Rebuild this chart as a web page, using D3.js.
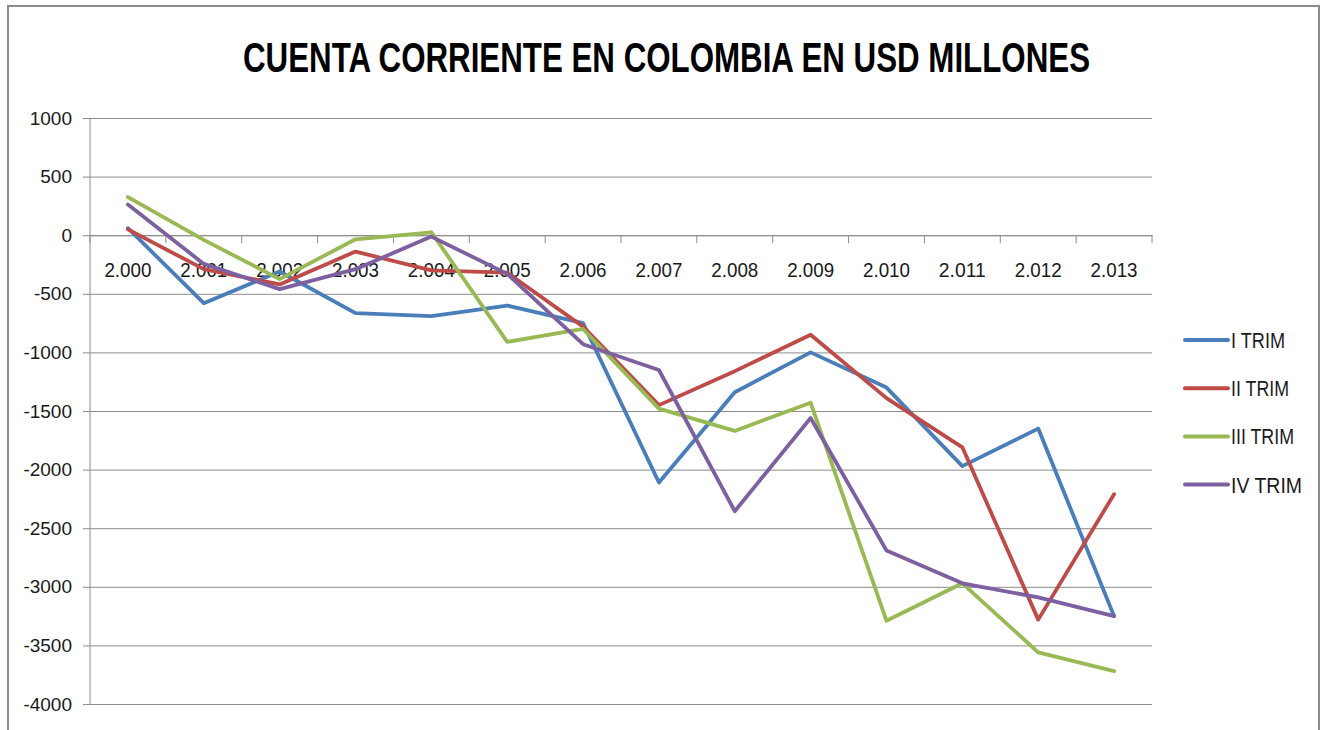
<!DOCTYPE html>
<meta charset="utf-8">
<head>
<script src="https://d3js.org/d3.v7.min.js"></script>
<style>
  body { margin: 0; background: #fff; }
  text { font-family: "Liberation Sans", Arial, sans-serif; fill: #1a1a1a; }
</style>
</head>
<body>
<svg id="chart" width="1327" height="730"></svg>
<script>

// data
const years = ["2.000","2.001","2.002","2.003","2.004","2.005","2.006","2.007","2.008","2.009","2.010","2.011","2.012","2.013"];
const trim1 = [60, -580, -310, -665, -690, -600, -750, -2110, -1340, -1000, -1300, -1970, -1650, -3250];
const trim2 = [50, -290, -420, -140, -300, -320, -780, -1450, -1160, -850, -1390, -1810, -3280, -2210];
const trim3 = [325, -40, -375, -35, 25, -910, -800, -1480, -1670, -1430, -3290, -2970, -3560, -3720];
const trim4 = [262, -245, -460, -290, -12, -330, -930, -1150, -2355, -1560, -2690, -2970, -3090, -3250];
const seriesNames = ["I TRIM", "II TRIM", "III TRIM", "IV  TRIM"];
const seriesColors = ["#4A7EBB", "#BE4B48", "#98B954", "#7D60A0"];
const yTicks = [1000, 500, 0, -500, -1000, -1500, -2000, -2500, -3000, -3500, -4000];

const allSeries = [trim1, trim2, trim3, trim4];

var svg = d3.select("#chart");

// outer chart border
svg.append("rect")
    .attr("x", 8).attr("y", 6)
    .attr("width", 1311).attr("height", 740)
    .attr("fill", "none")
    .attr("stroke", "#8c8c8c")
    .attr("stroke-width", 2);

// title
svg.append("text")
    .attr("x", 243).attr("y", 72)
    .attr("font-size", 42)
    .attr("font-weight", "bold")
    .attr("textLength", 847)
    .attr("lengthAdjust", "spacingAndGlyphs")
    .style("fill", "#000")
    .text("CUENTA CORRIENTE EN COLOMBIA EN USD MILLONES");

var plotLeft = 90, plotRight = 1152, plotTop = 118, plotBottom = 704;

var x = d3.scaleBand().domain(years).range([plotLeft, plotRight]).padding(0);
var y = d3.scaleLinear().domain([-4000, 1000]).range([plotBottom, plotTop]);

// horizontal gridlines + y labels
var yAxis = svg.append("g")
    .attr("transform", "translate(" + plotLeft + ",0)")
    .call(d3.axisLeft(y)
        .tickValues(yTicks)
        .tickFormat(d => String(d))
        .tickSize(-(plotRight - plotLeft))
        .tickSizeOuter(0)
        .tickPadding(18));
yAxis.select(".domain").remove();
yAxis.selectAll(".tick line")
    .attr("x1", -7)
    .attr("stroke", "#8c8c8c");
yAxis.selectAll(".tick text")
    .attr("font-size", 19)
    .attr("font-family", "Liberation Sans, Arial, sans-serif")
    .style("fill", "#1a1a1a");

// left axis line
svg.append("line")
    .attr("x1", plotLeft).attr("x2", plotLeft)
    .attr("y1", plotTop).attr("y2", plotBottom)
    .attr("stroke", "#8c8c8c");

// category axis sits on zero
var xAxis = svg.append("g")
    .attr("transform", "translate(0," + y(0) + ")")
    .call(d3.axisBottom(x).tickSize(0).tickPadding(28));
xAxis.select(".domain").attr("stroke", "#8c8c8c");
xAxis.selectAll(".tick text")
    .attr("font-size", 20)
    .attr("font-family", "Liberation Sans, Arial, sans-serif")
    .attr("textLength", 47)
    .attr("lengthAdjust", "spacingAndGlyphs")
    .style("fill", "#1a1a1a");

// tick marks between categories
var bounds = years.map(d => x(d)).concat([plotRight]);
svg.append("g").selectAll("line")
    .data(bounds)
    .enter()
    .append("line")
    .attr("x1", d => d).attr("x2", d => d)
    .attr("y1", y(0)).attr("y2", y(0) + 8)
    .attr("stroke", "#8c8c8c");

// lines
var line = d3.line()
    .x((d, i) => x(years[i]) + x.bandwidth() / 2)
    .y(d => y(d));

svg.append("g").selectAll("path")
    .data(allSeries)
    .enter()
    .append("path")
    .attr("d", line)
    .attr("fill", "none")
    .attr("stroke", (d, i) => seriesColors[i])
    .attr("stroke-width", 3.8)
    .attr("stroke-linejoin", "round")
    .attr("stroke-linecap", "round");

// legend
var legend = svg.append("g").selectAll("g")
    .data(seriesNames)
    .enter()
    .append("g")
    .attr("transform", (d, i) => "translate(1185," + (340 + i * 48.2) + ")");

legend.append("line")
    .attr("x1", 0).attr("x2", 43)
    .attr("stroke", (d, i) => seriesColors[i])
    .attr("stroke-width", 4)
    .attr("stroke-linecap", "round");

legend.append("text")
    .attr("x", 46).attr("y", 8)
    .attr("font-size", 22)
    .attr("textLength", (d, i) => [54, 58, 63, 71][i])
    .attr("lengthAdjust", "spacingAndGlyphs")
    .text(d => d);

</script>
</body>
</html>
